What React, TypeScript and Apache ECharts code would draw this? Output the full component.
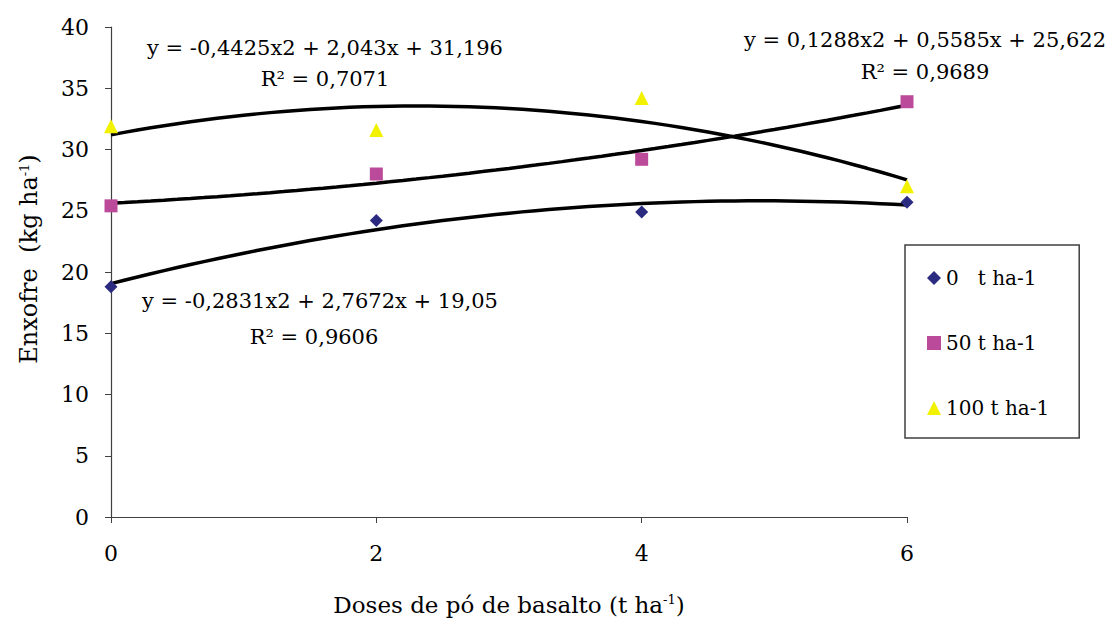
import React, { useEffect, useRef } from "react";
import * as echarts from "echarts";

const doses = [0, 2, 4, 6];
const s0 = [18.8, 24.2, 24.9, 25.7];
const s50 = [25.4, 28.0, 29.2, 33.9];
const s100 = [31.9, 31.6, 34.2, 27.0];
const seriesNames = ["0   t ha-1", "50 t ha-1", "100 t ha-1"];
// trendline coefficients [a, b, c] as shown: y = a x2 + b x + c
const coef0 = [-0.2831, 2.7672, 19.05];
const coef50 = [0.1288, 0.5585, 25.622];
const coef100 = [-0.4425, 2.043, 31.196];
const eqTexts = [
  "y = -0,4425x2 + 2,043x + 31,196",
  "R\u00b2 = 0,7071",
  "y = 0,1288x2 + 0,5585x + 25,622",
  "R\u00b2 = 0,9689",
  "y = -0,2831x2 + 2,7672x + 19,05",
  "R\u00b2 = 0,9606",
];
const yTicks = [0, 5, 10, 15, 20, 25, 30, 35, 40];

const FONT = "DejaVu Serif";

function trend(c: number[]) {
  const pts: number[][] = [];
  for (let i = 0; i <= 60; i++) {
    const x = i / 10;
    pts.push([x, c[0] * x * x + c[1] * x + c[2]]);
  }
  return pts;
}

export default function App() {
  const ref = useRef<HTMLDivElement>(null);
  useEffect(() => {
    if (!ref.current) return;
    const chart = echarts.init(ref.current, null, { renderer: "svg" });
    const axisColor = "#404040";
    const txt = (t: string, x: number, y: number) => ({
      type: "text",
      x,
      y,
      style: {
        text: t,
        fontFamily: FONT,
        fontSize: 21,
        fill: "#000",
        textAlign: "center",
        textVerticalAlign: "middle",
      },
    });
    const sup = { fontFamily: FONT, fontSize: 13, color: "#000", padding: [0, 0, 10, 0] };
    chart.setOption({
      animation: false,
      backgroundColor: "#fff",
      grid: { left: 111, right: 202, top: 27, bottom: 107 },
      xAxis: {
        type: "value",
        min: 0,
        max: 6,
        interval: 2,
        name: "Doses de pó de basalto (t ha{sup|-1})",
        nameLocation: "middle",
        nameGap: 76,
        nameTextStyle: { fontFamily: FONT, fontSize: 23, color: "#000", rich: { sup } },
        axisLine: { lineStyle: { color: axisColor, width: 1.2 } },
        axisTick: { show: true, inside: false, length: 6, lineStyle: { color: axisColor } },
        axisLabel: { fontFamily: FONT, fontSize: 22, color: "#000", margin: 25 },
        splitLine: { show: false },
      },
      yAxis: {
        type: "value",
        min: 0,
        max: 40,
        interval: 5,
        name: "Enxofre  (kg ha{sup|-1})",
        nameLocation: "middle",
        nameGap: 70,
        nameRotate: 90,
        nameTextStyle: {
          fontFamily: FONT,
          fontSize: 24,
          color: "#000",
          padding: [0, 0, 0, 26],
          rich: { sup },
        },
        axisLine: { show: true, lineStyle: { color: axisColor, width: 1.2 } },
        axisTick: { show: true, inside: false, length: 6, lineStyle: { color: axisColor } },
        axisLabel: {
          fontFamily: FONT,
          fontSize: 22,
          color: "#000",
          margin: 22,
          formatter: (v: number) => (yTicks.includes(v) ? String(v) : ""),
        },
        splitLine: { show: false },
      },
      legend: {
        orient: "vertical",
        left: 905,
        top: 245,
        data: [
          { name: seriesNames[0], icon: "diamond" },
          { name: seriesNames[1], icon: "rect" },
          { name: seriesNames[2], icon: "triangle" },
        ],
        itemWidth: 14,
        itemHeight: 14,
        itemGap: 45,
        padding: [23, 30, 20, 22],
        borderColor: "#404040",
        borderWidth: 1.5,
        backgroundColor: "#fff",
        textStyle: { fontFamily: FONT, fontSize: 20, color: "#000" },
      },
      series: [
        {
          type: "line",
          data: trend(coef100),
          showSymbol: false,
          lineStyle: { color: "#000", width: 3.5 },
          silent: true,
          z: 2,
        },
        {
          type: "line",
          data: trend(coef50),
          showSymbol: false,
          lineStyle: { color: "#000", width: 3.5 },
          silent: true,
          z: 2,
        },
        {
          type: "line",
          data: trend(coef0),
          showSymbol: false,
          lineStyle: { color: "#000", width: 3.5 },
          silent: true,
          z: 2,
        },
        {
          name: seriesNames[0],
          type: "scatter",
          symbol: "diamond",
          symbolSize: 13,
          itemStyle: { color: "#2A2A80", opacity: 1 },
          data: doses.map((d, i) => [d, s0[i]]),
          z: 3,
        },
        {
          name: seriesNames[1],
          type: "scatter",
          symbol: "rect",
          symbolSize: 13,
          itemStyle: { color: "#BB4A9B", opacity: 1 },
          data: doses.map((d, i) => [d, s50[i]]),
          z: 3,
        },
        {
          name: seriesNames[2],
          type: "scatter",
          symbol: "triangle",
          symbolSize: 14,
          itemStyle: { color: "#F2F200", opacity: 1 },
          data: doses.map((d, i) => [d, s100[i]]),
          z: 3,
        },
      ],
      graphic: [
        txt(eqTexts[0], 325, 48),
        txt(eqTexts[1], 325, 79),
        txt(eqTexts[2], 925, 40),
        txt(eqTexts[3], 925, 72),
        txt(eqTexts[4], 320, 301),
        txt(eqTexts[5], 314, 337),
      ],
    });
    return () => chart.dispose();
  }, []);
  return <div ref={ref} style={{ width: 1109, height: 624, position: "absolute", left: 0, top: 0 }} />;
}
